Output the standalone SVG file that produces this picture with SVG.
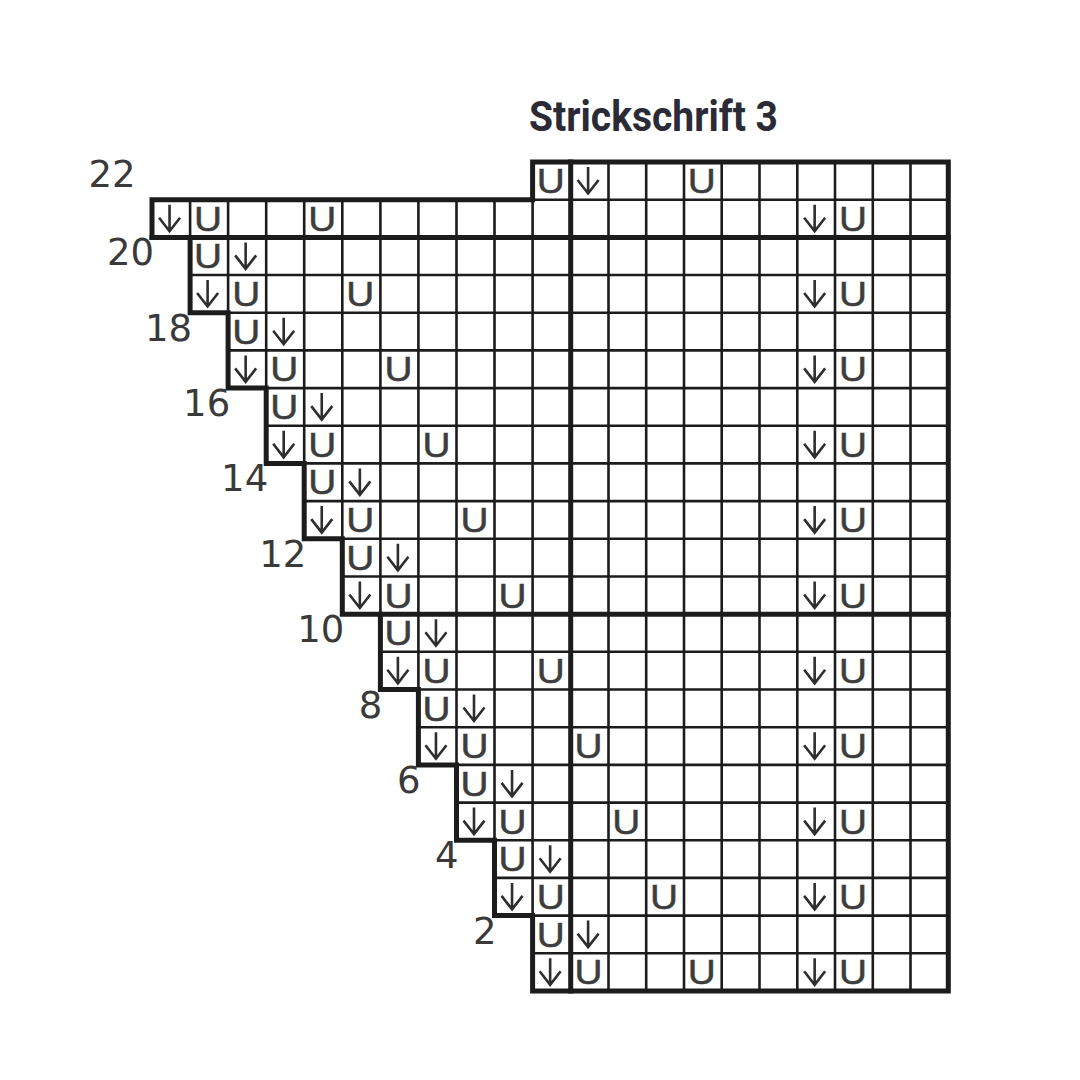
<svg xmlns="http://www.w3.org/2000/svg" xmlns:xlink="http://www.w3.org/1999/xlink" width="1080" height="1080" viewBox="0 0 1080 1080">
<style>
.thin{stroke:#1c1c1c;stroke-width:2.6;fill:none}
.thick{stroke:#1c1c1c;stroke-width:5;fill:none;stroke-linejoin:miter;stroke-linecap:square}
.u{font-family:"Liberation Sans",Arial,sans-serif;font-size:35px;fill:#3d3d3d;stroke:#3d3d3d;stroke-width:0.5;text-anchor:middle}
.lbl{font-family:"DejaVu Sans","Liberation Sans",sans-serif;font-size:37px;fill:#3a3a3a;text-anchor:end}
.title{font-family:Roboto,"Liberation Sans",sans-serif;font-weight:700;font-size:42px;fill:#2b2b38}
.arr{stroke:#2e2e2e;stroke-width:2.6;fill:none;stroke-linejoin:miter}
</style>
<defs>
<path id="arr" class="arr" d="M0,5 V31 M-10.5,18 L0,31.5 L10.5,18"/>
</defs>
<rect width="1080" height="1080" fill="#ffffff"/>
<g id="title"><text class="title" x="529" y="131" textLength="249" lengthAdjust="spacingAndGlyphs">Strickschrift 3</text></g>
<g id="grid-thin">
<path class="thin" d="M532.6,199.7H948.3 M190.1,275H948.3 M228.1,312.7H948.3 M228.1,350.4H948.3 M266.2,388.1H948.3 M266.2,425.8H948.3 M304.2,463.4H948.3 M304.2,501.1H948.3 M342.3,538.8H948.3 M342.3,576.5H948.3 M380.4,651.8H948.3 M418.4,689.5H948.3 M418.4,727.2H948.3 M456.5,764.9H948.3 M456.5,802.6H948.3 M494.5,840.2H948.3 M494.5,877.9H948.3 M532.6,915.6H948.3 M532.6,953.3H948.3"/>
<path class="thin" d="M190.1,199.7V237.4 M228.1,199.7V312.7 M266.2,199.7V388.1 M304.2,199.7V463.4 M342.3,199.7V538.8 M380.4,199.7V614.2 M418.4,199.7V689.5 M456.5,199.7V764.9 M494.5,199.7V840.2 M532.6,199.7V915.6 M608.5,162V991 M646.2,162V991 M684,162V991 M721.7,162V991 M759.5,162V991 M797.3,162V991 M835,162V991 M872.8,162V991 M910.5,162V991"/>
</g>
<g id="grid-thick">
<path class="thick" d="M532.6,162H948.3V991H532.6V915.6H494.5V840.2H456.5V764.9H418.4V689.5H380.4V614.2H342.3V538.8H304.2V463.4H266.2V388.1H228.1V312.7H190.1V237.4H152V199.7H532.6Z"/>
<path class="thick" d="M570.7,162V991 M152,237.4H948.3 M380.4,614.2H948.3"/>
</g>
<g id="row-labels">
<text class="lbl" x="135.6" y="187">22</text>
<text class="lbl" x="154.1" y="265.4">20</text>
<text class="lbl" x="192.1" y="340.7">18</text>
<text class="lbl" x="230.2" y="416.1">16</text>
<text class="lbl" x="268.2" y="491.4">14</text>
<text class="lbl" x="306.3" y="566.8">12</text>
<text class="lbl" x="344.4" y="642.2">10</text>
<text class="lbl" x="382.4" y="717.5">8</text>
<text class="lbl" x="420.5" y="792.9">6</text>
<text class="lbl" x="458.5" y="868.2">4</text>
<text class="lbl" x="496.6" y="943.6">2</text>
</g>
<g id="symbols-u">
<text class="u" x="550.65" y="193" textLength="28" lengthAdjust="spacingAndGlyphs">U</text><text class="u" x="701.85" y="193" textLength="28" lengthAdjust="spacingAndGlyphs">U</text>
<text class="u" x="208.1" y="230.7" textLength="28" lengthAdjust="spacingAndGlyphs">U</text><text class="u" x="322.25" y="230.7" textLength="28" lengthAdjust="spacingAndGlyphs">U</text><text class="u" x="852.9" y="230.7" textLength="28" lengthAdjust="spacingAndGlyphs">U</text>
<text class="u" x="208.1" y="268.4" textLength="28" lengthAdjust="spacingAndGlyphs">U</text>
<text class="u" x="246.15" y="306" textLength="28" lengthAdjust="spacingAndGlyphs">U</text><text class="u" x="360.35" y="306" textLength="28" lengthAdjust="spacingAndGlyphs">U</text><text class="u" x="852.9" y="306" textLength="28" lengthAdjust="spacingAndGlyphs">U</text>
<text class="u" x="246.15" y="343.7" textLength="28" lengthAdjust="spacingAndGlyphs">U</text>
<text class="u" x="284.2" y="381.4" textLength="28" lengthAdjust="spacingAndGlyphs">U</text><text class="u" x="398.4" y="381.4" textLength="28" lengthAdjust="spacingAndGlyphs">U</text><text class="u" x="852.9" y="381.4" textLength="28" lengthAdjust="spacingAndGlyphs">U</text>
<text class="u" x="284.2" y="419.1" textLength="28" lengthAdjust="spacingAndGlyphs">U</text>
<text class="u" x="322.25" y="456.8" textLength="28" lengthAdjust="spacingAndGlyphs">U</text><text class="u" x="436.45" y="456.8" textLength="28" lengthAdjust="spacingAndGlyphs">U</text><text class="u" x="852.9" y="456.8" textLength="28" lengthAdjust="spacingAndGlyphs">U</text>
<text class="u" x="322.25" y="494.4" textLength="28" lengthAdjust="spacingAndGlyphs">U</text>
<text class="u" x="360.35" y="532.1" textLength="28" lengthAdjust="spacingAndGlyphs">U</text><text class="u" x="474.5" y="532.1" textLength="28" lengthAdjust="spacingAndGlyphs">U</text><text class="u" x="852.9" y="532.1" textLength="28" lengthAdjust="spacingAndGlyphs">U</text>
<text class="u" x="360.35" y="569.8" textLength="28" lengthAdjust="spacingAndGlyphs">U</text>
<text class="u" x="398.4" y="607.5" textLength="28" lengthAdjust="spacingAndGlyphs">U</text><text class="u" x="512.55" y="607.5" textLength="28" lengthAdjust="spacingAndGlyphs">U</text><text class="u" x="852.9" y="607.5" textLength="28" lengthAdjust="spacingAndGlyphs">U</text>
<text class="u" x="398.4" y="645.2" textLength="28" lengthAdjust="spacingAndGlyphs">U</text>
<text class="u" x="436.45" y="682.8" textLength="28" lengthAdjust="spacingAndGlyphs">U</text><text class="u" x="550.65" y="682.8" textLength="28" lengthAdjust="spacingAndGlyphs">U</text><text class="u" x="852.9" y="682.8" textLength="28" lengthAdjust="spacingAndGlyphs">U</text>
<text class="u" x="436.45" y="720.5" textLength="28" lengthAdjust="spacingAndGlyphs">U</text>
<text class="u" x="474.5" y="758.2" textLength="28" lengthAdjust="spacingAndGlyphs">U</text><text class="u" x="588.6" y="758.2" textLength="28" lengthAdjust="spacingAndGlyphs">U</text><text class="u" x="852.9" y="758.2" textLength="28" lengthAdjust="spacingAndGlyphs">U</text>
<text class="u" x="474.5" y="795.9" textLength="28" lengthAdjust="spacingAndGlyphs">U</text>
<text class="u" x="512.55" y="833.6" textLength="28" lengthAdjust="spacingAndGlyphs">U</text><text class="u" x="626.35" y="833.6" textLength="28" lengthAdjust="spacingAndGlyphs">U</text><text class="u" x="852.9" y="833.6" textLength="28" lengthAdjust="spacingAndGlyphs">U</text>
<text class="u" x="512.55" y="871.2" textLength="28" lengthAdjust="spacingAndGlyphs">U</text>
<text class="u" x="550.65" y="908.9" textLength="28" lengthAdjust="spacingAndGlyphs">U</text><text class="u" x="664.1" y="908.9" textLength="28" lengthAdjust="spacingAndGlyphs">U</text><text class="u" x="852.9" y="908.9" textLength="28" lengthAdjust="spacingAndGlyphs">U</text>
<text class="u" x="550.65" y="946.6" textLength="28" lengthAdjust="spacingAndGlyphs">U</text>
<text class="u" x="588.6" y="984.3" textLength="28" lengthAdjust="spacingAndGlyphs">U</text><text class="u" x="701.85" y="984.3" textLength="28" lengthAdjust="spacingAndGlyphs">U</text><text class="u" x="852.9" y="984.3" textLength="28" lengthAdjust="spacingAndGlyphs">U</text>
</g>
<g id="symbols-arrow">
<use xlink:href="#arr" x="588.1" y="162"/>
<use xlink:href="#arr" x="169.55" y="199.7"/><use xlink:href="#arr" x="814.65" y="199.7"/>
<use xlink:href="#arr" x="245.65" y="237.4"/>
<use xlink:href="#arr" x="207.6" y="275"/><use xlink:href="#arr" x="814.65" y="275"/>
<use xlink:href="#arr" x="283.7" y="312.7"/>
<use xlink:href="#arr" x="245.65" y="350.4"/><use xlink:href="#arr" x="814.65" y="350.4"/>
<use xlink:href="#arr" x="321.75" y="388.1"/>
<use xlink:href="#arr" x="283.7" y="425.8"/><use xlink:href="#arr" x="814.65" y="425.8"/>
<use xlink:href="#arr" x="359.85" y="463.4"/>
<use xlink:href="#arr" x="321.75" y="501.1"/><use xlink:href="#arr" x="814.65" y="501.1"/>
<use xlink:href="#arr" x="397.9" y="538.8"/>
<use xlink:href="#arr" x="359.85" y="576.5"/><use xlink:href="#arr" x="814.65" y="576.5"/>
<use xlink:href="#arr" x="435.95" y="614.2"/>
<use xlink:href="#arr" x="397.9" y="651.8"/><use xlink:href="#arr" x="814.65" y="651.8"/>
<use xlink:href="#arr" x="474" y="689.5"/>
<use xlink:href="#arr" x="435.95" y="727.2"/><use xlink:href="#arr" x="814.65" y="727.2"/>
<use xlink:href="#arr" x="512.05" y="764.9"/>
<use xlink:href="#arr" x="474" y="802.6"/><use xlink:href="#arr" x="814.65" y="802.6"/>
<use xlink:href="#arr" x="550.15" y="840.2"/>
<use xlink:href="#arr" x="512.05" y="877.9"/><use xlink:href="#arr" x="814.65" y="877.9"/>
<use xlink:href="#arr" x="588.1" y="915.6"/>
<use xlink:href="#arr" x="550.15" y="953.3"/><use xlink:href="#arr" x="814.65" y="953.3"/>
</g>
</svg>
